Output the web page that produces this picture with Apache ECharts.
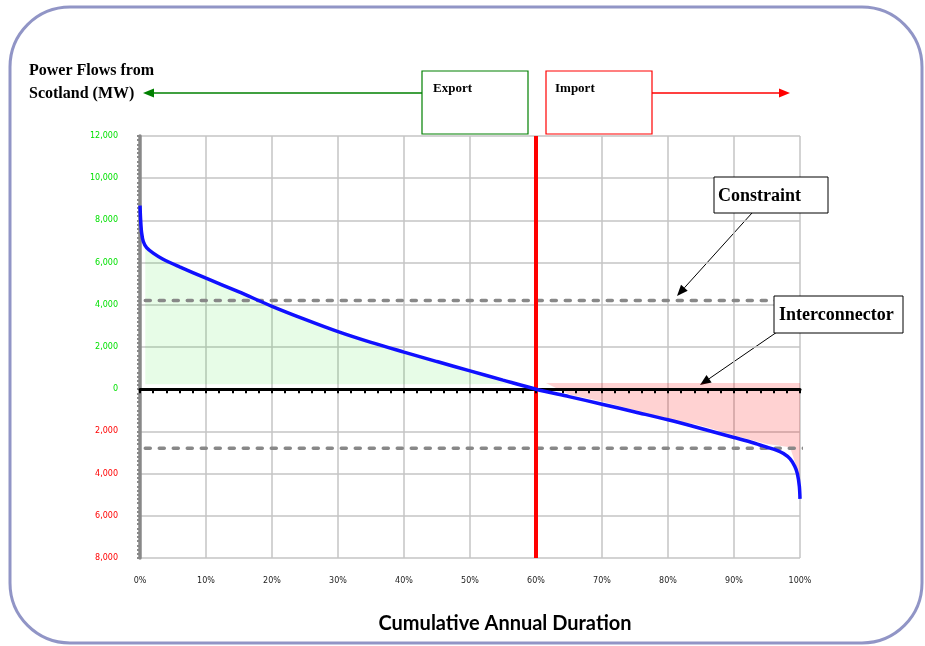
<!DOCTYPE html>
<html>
<head>
<meta charset="utf-8">
<script src="https://cdn.jsdelivr.net/npm/echarts@6/dist/echarts.min.js"></script>
<style>
html,body{margin:0;padding:0;background:#fff;}
#chart{width:925px;height:646px;}
</style>
</head>
<body>
<div id="chart"></div>
<script>
// ---- data ----
const durationPct = [0, 0.1, 0.25, 0.5, 1, 2, 3.5, 6, 10, 15, 20, 25, 30, 35, 40, 45, 50, 55, 60, 65, 70, 75, 80, 85, 90, 93, 95, 96.5, 97.5, 98.5, 99.2, 99.6, 99.9, 100];
const flowMW = [8700, 8000, 7400, 7000, 6710, 6450, 6160, 5800, 5260, 4610, 3930, 3310, 2730, 2220, 1760, 1310, 870, 430, 0, -350, -710, -1080, -1450, -1860, -2290, -2550, -2750, -2900, -3050, -3300, -3650, -4000, -4600, -5200];

const exportFillPct = [0.8, 2, 3.5, 6, 10, 15, 20, 30, 40, 50, 57];
const exportFillMW = [6750, 6470, 6180, 5830, 5290, 4650, 3990, 2770, 1790, 890, 260];

const importFillPct = [61.5, 65, 70, 75, 80, 84, 86, 90, 95, 98.5, 100.5];
const importFillMW = [290, -250, -580, -1000, -1480, -1650, -1820, -2200, -2600, -2750, -4700];

const constraintMW = 4200;
const interconnectorMW = -2800;
const dashedRangePct = [0.8, 101];
const splitPct = 60;

const yTicks = { min: -8000, max: 12000, interval: 2000 };
const xTicks = { min: 0, max: 100, interval: 10 };

// ---- helpers ----
const pairs = (xs, ys) => xs.map((x, i) => [x, ys[i]]);

function arrow(x1, y1, x2, y2, color, width, headLen, headHalf) {
  const dx = x2 - x1, dy = y2 - y1;
  const len = Math.sqrt(dx * dx + dy * dy);
  const ux = dx / len, uy = dy / len;
  const bx = x2 - ux * headLen, by = y2 - uy * headLen;
  const nx = -uy * headHalf, ny = ux * headHalf;
  return [
    { type: 'line', shape: { x1: x1, y1: y1, x2: bx, y2: by }, style: { stroke: color, lineWidth: width } },
    { type: 'polygon', shape: { points: [[x2, y2], [bx + nx, by + ny], [bx - nx, by - ny]] }, style: { fill: color } }
  ];
}

const serif = '"Liberation Serif", "DejaVu Serif", serif';

const chart = echarts.init(document.getElementById('chart'), null, { renderer: 'canvas' });

const graphics = [
  { type: 'rect', shape: { x: 10, y: 7, width: 912, height: 636, r: 60 }, style: { fill: 'none', stroke: '#9195c6', lineWidth: 3 }, z: -10 },
  { type: 'text', left: 29, top: 59, style: { text: 'Power Flows from\nScotland (MW)', font: 'bold 16px ' + serif, fill: '#000', lineHeight: 23 } },
  { type: 'rect', shape: { x: 422, y: 71, width: 106, height: 63 }, style: { fill: '#fff', stroke: '#008000', lineWidth: 1.2 } },
  { type: 'text', x: 433, y: 89, style: { text: 'Export', font: 'bold 13px ' + serif, fill: '#000', verticalAlign: 'middle' } },
  { type: 'rect', shape: { x: 546, y: 71, width: 106, height: 63 }, style: { fill: '#fff', stroke: '#ff0000', lineWidth: 1.2 } },
  { type: 'text', x: 555, y: 89, style: { text: 'Import', font: 'bold 13px ' + serif, fill: '#000', verticalAlign: 'middle' } },
  ...arrow(422, 93, 143, 93, '#008000', 1.3, 11, 4.5),
  ...arrow(652, 93, 790, 93, '#ff0000', 1.3, 11, 4.5),
  { type: 'rect', shape: { x: 714, y: 177, width: 114, height: 36 }, style: { fill: '#fff', stroke: '#000', lineWidth: 1 }, z: 50 },
  { type: 'text', x: 718, y: 196, style: { text: 'Constraint', font: 'bold 18px ' + serif, fill: '#000', verticalAlign: 'middle' }, z: 51 },
  ...arrow(752, 213, 677, 296, '#000', 1, 11, 4.5),
  { type: 'rect', shape: { x: 774, y: 296, width: 129, height: 37 }, style: { fill: '#fff', stroke: '#000', lineWidth: 1 }, z: 50 },
  { type: 'text', x: 779, y: 315, style: { text: 'Interconnector', font: 'bold 18px ' + serif, fill: '#000', verticalAlign: 'middle' }, z: 51 },
  ...arrow(777, 332, 700, 385, '#000', 1, 11, 4.5),
  { type: 'text', x: 505, y: 624, style: { text: 'Cumulative Annual Duration', font: 'bold 20px Lato, "Open Sans", sans-serif', fill: '#000', align: 'center', verticalAlign: 'middle' } }
];

const option = {
  backgroundColor: '#fff',
  animation: false,
  grid: { left: 140, right: 125, top: 136, bottom: 88, containLabel: false },
  xAxis: [
    {
      type: 'value', min: xTicks.min, max: xTicks.max, interval: xTicks.interval,
      axisLine: { show: false, onZero: false },
      axisTick: { show: false },
      axisLabel: { formatter: '{value}%', fontSize: 8, fontFamily: 'DejaVu Sans', color: '#222', margin: 19 },
      splitLine: { show: true, lineStyle: { color: '#c4c4c4', width: 1.5 } }
    },
    {
      type: 'value', position: 'top', min: 0, max: 100, interval: 2, z: 5,
      axisLine: { show: true, onZero: true, lineStyle: { color: '#000', width: 3 } },
      axisTick: { show: true, inside: true, length: 4, lineStyle: { color: '#000', width: 2 } },
      axisLabel: { show: false },
      splitLine: { show: false }
    }
  ],
  yAxis: {
    type: 'value', min: yTicks.min, max: yTicks.max, interval: yTicks.interval,
    axisLine: { show: true, onZero: false, lineStyle: { color: '#888', width: 3.5 } },
    axisTick: { show: true, length: 3, lineStyle: { color: '#888', width: 2 } },
    minorTick: { show: true, splitNumber: 10, length: 3, lineStyle: { color: '#888', width: 2 } },
    axisLabel: {
      fontSize: 8, fontFamily: 'DejaVu Sans', margin: 22,
      formatter: v => Math.abs(Number(v)).toLocaleString('en-US'),
      color: v => Number(v) >= 0 ? '#00e000' : '#ff0000',
      padding: [0, 0, 5, 0]
    },
    splitLine: { show: true, lineStyle: { color: '#c4c4c4', width: 1.5 } }
  },
  series: [
    {
      name: 'Export area', type: 'line', xAxisIndex: 0, data: pairs(exportFillPct, exportFillMW),
      showSymbol: false, smooth: 0.3, lineStyle: { width: 0 },
      areaStyle: { color: 'rgba(0,225,0,0.135)', origin: 240 }, z: 1
    },
    {
      name: 'Import area', type: 'line', xAxisIndex: 0, data: pairs(importFillPct, importFillMW),
      showSymbol: false, smooth: false, clip: false, lineStyle: { width: 0 },
      areaStyle: { color: 'rgba(255,0,0,0.25)', origin: 290 }, z: 1
    },
    {
      name: 'Constraint', type: 'line', xAxisIndex: 0, data: [[dashedRangePct[0], constraintMW], [dashedRangePct[1], constraintMW]],
      showSymbol: false, clip: false,
      lineStyle: { color: '#888', width: 3.5, type: [5, 9], cap: 'round' }, z: 3
    },
    {
      name: 'Interconnector', type: 'line', xAxisIndex: 0, data: [[dashedRangePct[0], interconnectorMW], [dashedRangePct[1], interconnectorMW]],
      showSymbol: false, clip: false,
      lineStyle: { color: '#888', width: 3.5, type: [5, 9], cap: 'round' }, z: 3
    },
    {
      name: 'Power flow', type: 'line', xAxisIndex: 0, data: pairs(durationPct, flowMW),
      showSymbol: false, smooth: 0.3,
      lineStyle: { color: '#1010ff', width: 3.5 }, z: 6,
      markLine: {
        silent: true, symbol: 'none', label: { show: false },
        lineStyle: { color: '#ff0000', width: 4, type: 'solid' },
        data: [{ xAxis: splitPct }]
      }
    }
  ],
  graphic: graphics
};

chart.setOption(option);
</script>
</body>
</html>
